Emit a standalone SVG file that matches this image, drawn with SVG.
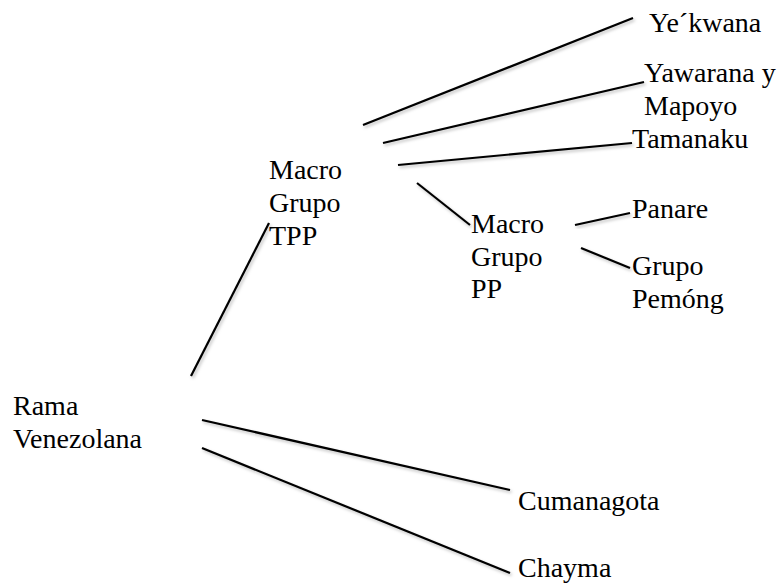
<svg xmlns="http://www.w3.org/2000/svg" width="783" height="584" viewBox="0 0 783 584">
<style>
.t{font-family:'Liberation Serif','Times New Roman',serif;font-size:28px;fill:#000}
.c line{stroke:#000;stroke-width:2.2;stroke-linecap:butt;filter:url(#sh)}
</style>
<defs>
<filter id="sh" x="-10%" y="-10%" width="130%" height="140%">
<feDropShadow dx="1.5" dy="2" stdDeviation="1.5" flood-color="#000" flood-opacity="0.25"/>
</filter>
</defs>
<rect width="783" height="584" fill="#fff"/>
<g id="connectors" class="c">
<line x1="191" y1="376" x2="269" y2="223"/>
<line x1="202" y1="420" x2="510" y2="490"/>
<line x1="202" y1="448" x2="510" y2="573"/>
<line x1="363" y1="125" x2="633" y2="18"/>
<line x1="383" y1="143" x2="644" y2="82"/>
<line x1="398" y1="165" x2="632" y2="143"/>
<line x1="417" y1="183" x2="470" y2="225"/>
<line x1="575" y1="225" x2="630" y2="213"/>
<line x1="581" y1="248" x2="630" y2="268"/>
</g>
<g class="t" font-family="Liberation Serif, serif" font-size="28">
<g id="rama"><text x="13" y="415">Rama</text><text x="13" y="448">Venezolana</text></g>
<g id="tpp"><text x="269" y="179">Macro</text><text x="269" y="212">Grupo</text><text x="269" y="245">TPP</text></g>
<g id="pp"><text x="471" y="233">Macro</text><text x="471" y="266">Grupo</text><text x="471" y="298">PP</text></g>
<g id="yekwana"><text x="649" y="32">Ye´kwana</text></g>
<g id="yawarana"><text x="644" y="82">Yawarana y</text><text x="644" y="115">Mapoyo</text></g>
<g id="tamanaku"><text x="632" y="148">Tamanaku</text></g>
<g id="panare"><text x="632" y="218">Panare</text></g>
<g id="pemong"><text x="632" y="275">Grupo</text><text x="632" y="308">Pemóng</text></g>
<g id="cumanagota"><text x="518" y="510">Cumanagota</text></g>
<g id="chayma"><text x="518" y="577">Chayma</text></g>
</g>
</svg>
